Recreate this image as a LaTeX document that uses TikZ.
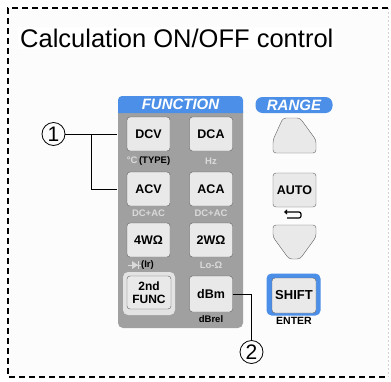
\documentclass[tikz,border=0pt]{standalone}
\usepackage{fontspec}
\setmainfont{Liberation Sans}
\usetikzlibrary{positioning,arrows.meta}
\definecolor{panelgray}{HTML}{A0A0A0}
\definecolor{keyface}{HTML}{E9E9E9}
\definecolor{keyedge}{HTML}{5E5E5E}
\definecolor{tabblue}{HTML}{4C8FE8}
\definecolor{sublight}{HTML}{DADADA}
\begin{document}
\begin{tikzpicture}[x=1pt,y=-1pt,
  key/.style={draw=keyedge, fill=keyface, rounded corners=3pt, minimum width=43pt, minimum height=34pt, inner sep=0pt, align=center, font=\fontsize{12.5}{13}\selectfont\bfseries},
  sub/.style={inner sep=0pt, font=\fontsize{9.5}{10}\selectfont\bfseries},
  tab/.style={fill=tabblue, text=white, inner sep=0pt, font=\fontsize{15}{15}\selectfont\bfseries\itshape},
  callout/.style={draw, circle, line width=0.8pt, minimum size=23pt, inner sep=0pt, font=\fontsize{21}{21}\selectfont},
  lead/.style={line width=1pt},
  rangekey/.style={draw=keyedge, fill=keyface, rounded corners=3pt}]

\useasboundingbox (0,0) rectangle (391,381);
\fill[gray!2] (8,8) rectangle (388,377);
\draw[dash pattern=on 6pt off 4pt, line width=1.4pt] (388,8) -- (8,8) -- (8,377) -- (388,377);
\draw[gray!35, dash pattern=on 2pt off 2pt] (388,8) -- (388,377);

% title
\node[fill=white, anchor=west, inner sep=2pt, font=\fontsize{25.5}{27}\selectfont] (title) at (18,38) {Calculation ON/OFF control};

% FUNCTION block
\node[fill=panelgray, rounded corners=5pt, minimum width=125pt, minimum height=222pt, inner sep=0pt] (panel) at (180.5,217) {};
\fill[tabblue] (118,113) [rounded corners=4pt] -- (118,96) -- (243,96) [sharp corners] -- (243,113) -- cycle;
\node[tab] (function) at (180.5,104.5) {FUNCTION};

\node[key] (dcv) at (148.5,134) {DCV};
\node[key] (dca) at (211,134) {DCA};
\node[key] (acv) at (148.5,189) {ACV};
\node[key] (aca) at (211,189) {ACA};
\node[key] (fourw) at (148.5,240) {4WΩ};
\node[key] (twow) at (211,240) {2WΩ};
\node[fill=gray!22, rounded corners=5pt, minimum width=52pt, minimum height=43pt, inner sep=0pt] (funcring) at (149,293.5) {};
\node[key, minimum width=44pt, minimum height=33pt, font=\fontsize{12}{12.5}\selectfont\bfseries] (func) at (149,292.5) {2nd\\FUNC};
\node[key, minimum height=36pt] (dbm) at (211,294) {dBm};

\node[sub] (dcvsub) at (148.5,161) {\textcolor{sublight}{°C}\,(TYPE)};
\node[sub, text=sublight] (dcasub) at (211,161) {Hz};
\node[sub, text=sublight] (acvsub) at (148.5,213) {DC+AC};
\node[sub, text=sublight] (acasub) at (211,213) {DC+AC};
\node[sub] (fourwsub) at (147.5,265) {(Ir)};
\fill[sublight] (132,261) -- (132,269) -- (138,265) -- cycle;
\draw[sublight, line width=1.2pt] (138.5,261) -- (138.5,269);
\draw[sublight, line width=1pt] (128,265) -- (141,265);
\node[sub, text=sublight] (twowsub) at (211,265) {Lo-Ω};
\node[sub] (dbmsub) at (211,319) {dBrel};

% RANGE block
\node[tab, rounded corners=7pt, minimum width=77pt, minimum height=16pt] (range) at (294,105) {RANGE};
\draw[rangekey] (283,118) -- (300,118) -- (316,140) -- (316,153) -- (273,153) -- (273,140) -- cycle;
\node[key] (auto) at (294.5,190) {AUTO};
\draw[line width=1.2pt, rounded corners=2pt, -{Triangle[length=3pt,width=5pt]}] (287,218) -- (301,218) -- (301,212) -- (284,212);
\draw[rangekey] (273,225) -- (316,225) -- (316,237) -- (300,259) -- (289,259) -- (273,237) -- cycle;
\node[fill=tabblue, rounded corners=5pt, minimum width=54pt, minimum height=42pt, inner sep=0pt] (shiftring) at (293.5,294.5) {};
\node[key, minimum width=44pt, minimum height=35pt, font=\fontsize{13}{13}\selectfont\bfseries] (shift) at (294,295.5) {SHIFT};
\node[sub, font=\fontsize{10.5}{10.5}\selectfont\bfseries] (enter) at (294,321) {ENTER};

% callouts
\node[callout] (one) at (53.5,134) {1};
\coordinate (split) at (91,134);
\coordinate (dcvend) at (117,134);
\coordinate (acvend) at (117,189);
\draw[lead] (one) -- (dcvend);
\draw[lead] (split) |- (acvend);
\node[callout] (two) at (251.5,352) {2};
\draw[lead] (dbm.east) -| (two);
\end{tikzpicture}
\end{document}
